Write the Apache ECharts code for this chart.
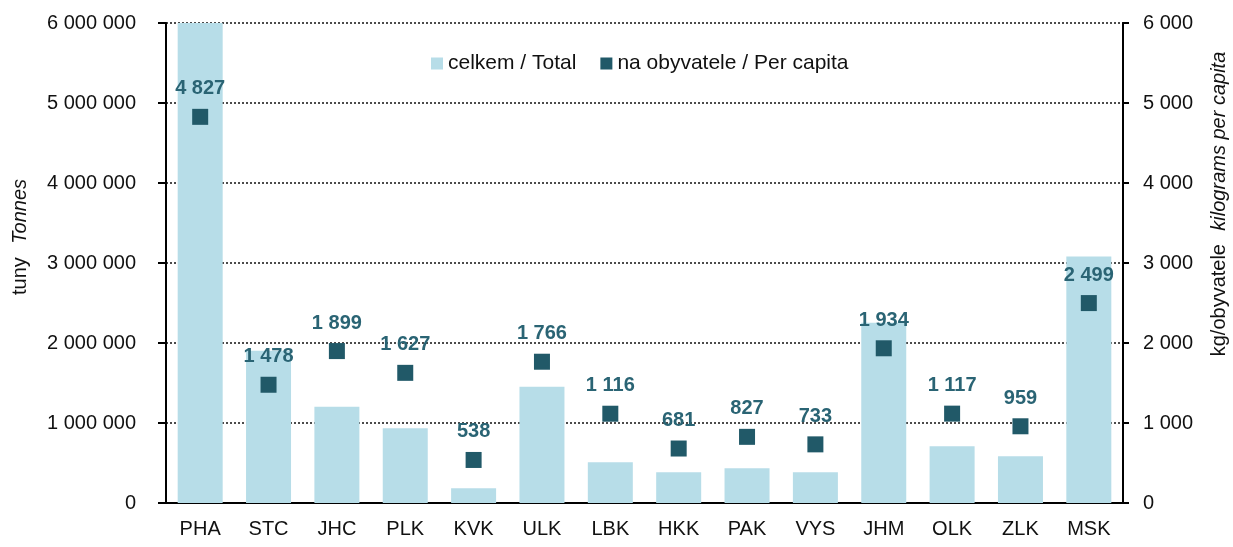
<!DOCTYPE html>
<html>
<head>
<meta charset="utf-8">
<script src="https://cdn.jsdelivr.net/npm/echarts@6/dist/echarts.min.js"></script>
<style>
  html, body { margin: 0; padding: 0; background: #fff; }
  #chart { width: 1233px; height: 547px; }
</style>
</head>
<body>
<div id="chart"></div>
<script>
const regions = ['PHA', 'STC', 'JHC', 'PLK', 'KVK', 'ULK', 'LBK', 'HKK', 'PAK', 'VYS', 'JHM', 'OLK', 'ZLK', 'MSK']
const totalTonnes = [6000000, 1904000, 1204000, 933000, 183000, 1454000, 508000, 383000, 433000, 383000, 2254000, 708000, 583000, 3080000]
const perCapita = [4827, 1478, 1899, 1627, 538, 1766, 1116, 681, 827, 733, 1934, 1117, 959, 2499]
const leftTicks = [0, 1000000, 2000000, 3000000, 4000000, 5000000, 6000000]
const rightTicks = [0, 1000, 2000, 3000, 4000, 5000, 6000]

const font = 'Liberation Sans, Arial, sans-serif'
const fmt = v => String(v).replace(/\B(?=(\d{3})+(?!\d))/g, ' ')

const chart = echarts.init(document.getElementById('chart'))
chart.setOption({
  animation: false,
  textStyle: { fontFamily: font },
  grid: { left: 166, right: 110, top: 23, bottom: 44, outerBoundsMode: 'none' },
  legend: {
    top: 48,
    left: 426,
    itemWidth: 12,
    itemHeight: 12,
    itemGap: 24,
    textStyle: { fontSize: 21, color: '#111', fontFamily: font },
    data: [
      { name: 'celkem / Total', icon: 'rect' },
      { name: 'na obyvatele / Per capita', icon: 'rect' }
    ]
  },
  xAxis: {
    type: 'category',
    data: regions,
    axisLine: { lineStyle: { color: '#000', width: 2 } },
    axisTick: { show: false },
    axisLabel: { fontSize: 20, color: '#111', margin: 16 }
  },
  yAxis: [{
    type: 'value',
    min: leftTicks[0],
    max: leftTicks[leftTicks.length - 1],
    interval: 1000000,
    name: '{a|tuny}    {b|Tonnes}',
    nameLocation: 'middle',
    nameRotate: 90,
    nameGap: 136,
    nameTextStyle: {
      padding: [0, 0, 0, 52],
      rich: {
        a: { fontSize: 20, color: '#111', fontFamily: font },
        b: { fontSize: 20, color: '#111', fontStyle: 'italic', fontFamily: font }
      }
    },
    axisLine: { show: true, lineStyle: { color: '#000', width: 2 } },
    axisTick: { show: true, length: 8, lineStyle: { color: '#000', width: 2 } },
    axisLabel: { fontSize: 20, color: '#111', margin: 30, formatter: fmt },
    splitLine: { lineStyle: { color: '#111', type: [2, 2], width: 1.5 } }
  }, {
    type: 'value',
    min: rightTicks[0],
    max: rightTicks[rightTicks.length - 1],
    interval: 1000,
    position: 'right',
    name: '{a|kg/obyvatele}    {b|kilograms per capita}',
    nameLocation: 'middle',
    nameRotate: 90,
    nameGap: 86,
    nameTextStyle: {
      padding: [0, 0, 0, 118],
      rich: {
        a: { fontSize: 20, color: '#111', fontFamily: font },
        b: { fontSize: 20, color: '#111', fontStyle: 'italic', fontFamily: font }
      }
    },
    axisLine: { show: true, lineStyle: { color: '#000', width: 2 } },
    axisTick: { show: true, length: 6, lineStyle: { color: '#000', width: 2 } },
    axisLabel: { fontSize: 20, color: '#111', margin: 20, formatter: fmt },
    splitLine: { show: false }
  }],
  series: [{
    name: 'celkem / Total',
    type: 'bar',
    data: totalTonnes,
    barWidth: 45,
    itemStyle: { color: '#b7dde8' }
  }, {
    name: 'na obyvatele / Per capita',
    type: 'scatter',
    yAxisIndex: 1,
    data: perCapita,
    symbol: 'rect',
    symbolSize: 16,
    itemStyle: { color: '#215968', opacity: 1 },
    label: {
      show: true,
      position: 'top',
      distance: 10,
      fontSize: 20,
      fontWeight: 'bold',
      color: '#2a6474',
      formatter: p => fmt(p.value)
    },
    z: 5
  }]
})
</script>
</body>
</html>
